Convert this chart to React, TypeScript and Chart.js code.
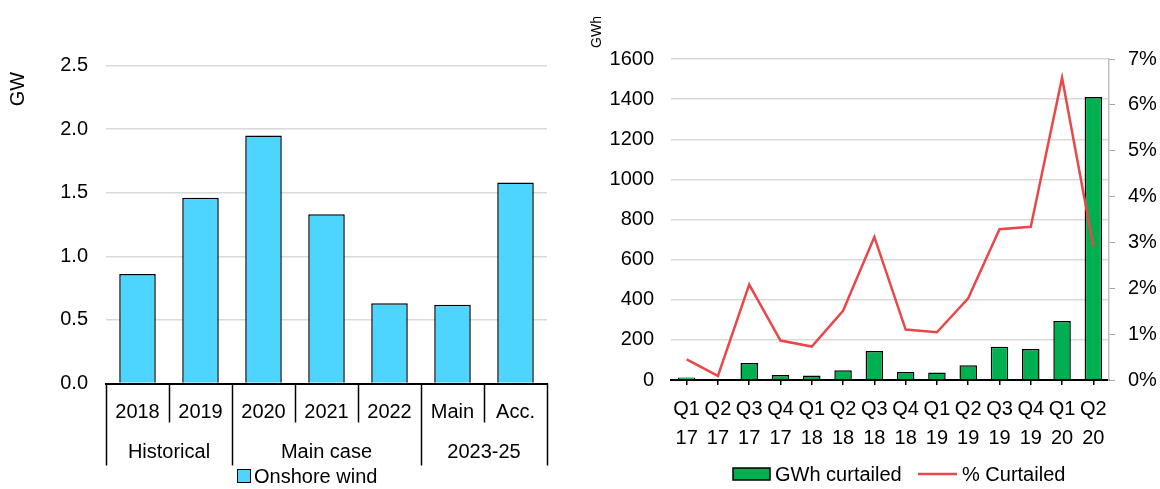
import React, { useEffect, useRef } from "react";
import Chart from "chart.js/auto";

const FONT = '"Liberation Sans", Arial, sans-serif';

// ---------- Left chart data ----------
const leftCategories = ["2018", "2019", "2020", "2021", "2022", "Main", "Acc."];
const leftGroups = ["Historical", "Main case", "2023-25"];
const leftGroupSizes = [2, 3, 2];
const onshoreWind = [0.86, 1.46, 1.95, 1.33, 0.63, 0.62, 1.58];
const leftSeriesLabel = "Onshore wind";
const leftAxisTitle = "GW";

// ---------- Right chart data ----------
const quarterLabels = ["Q1", "Q2", "Q3", "Q4", "Q1", "Q2", "Q3", "Q4", "Q1", "Q2", "Q3", "Q4", "Q1", "Q2"];
const yearLabels = ["17", "17", "17", "17", "18", "18", "18", "18", "19", "19", "19", "19", "20", "20"];
const gwhCurtailed = [13, 3, 85, 25, 22, 48, 145, 40, 37, 73, 166, 155, 294, 1410];
const pctCurtailed = [0.45, 0.09, 2.08, 0.86, 0.73, 1.51, 3.12, 1.1, 1.04, 1.78, 3.29, 3.34, 6.59, 2.91];
const barLabel = "GWh curtailed";
const lineLabel = "% Curtailed";
const rightAxisTitle = "GWh";

const CYAN = "#4DD4FF";
const GREEN = "#00B050";
const RED = "#E8484A";
const GRID = "#D9D9D9";

function LeftChart() {
  const ref = useRef<HTMLCanvasElement>(null);
  useEffect(() => {
    const overlay = {
      id: "leftOverlay",
      afterDraw(chart: any) {
        const ctx = chart.ctx;
        const area = chart.chartArea;
        const n = leftCategories.length;
        const w = (area.right - area.left) / n;
        const base = area.bottom;
        const longIdx = [0];
        let acc = 0;
        leftGroupSizes.forEach((s) => {
          acc += s;
          longIdx.push(acc);
        });
        ctx.save();
        ctx.strokeStyle = "#000";
        ctx.lineWidth = 1.5;
        for (let i = 0; i <= n; i++) {
          const bx = Math.round(area.left + i * w) + 0.5;
          const isLong = longIdx.includes(i);
          ctx.beginPath();
          ctx.moveTo(bx, base);
          ctx.lineTo(bx, isLong ? base + 82 : base + 39);
          ctx.stroke();
        }
        // group labels
        ctx.fillStyle = "#000";
        ctx.font = `20px ${FONT}`;
        ctx.textAlign = "center";
        ctx.textBaseline = "middle";
        let start = 0;
        leftGroups.forEach((g, gi) => {
          const end = start + leftGroupSizes[gi];
          const cx = area.left + ((start + end) / 2) * w;
          ctx.fillText(g, cx, base + 69);
          start = end;
        });
        // axis title
        ctx.save();
        ctx.translate(18, 89);
        ctx.rotate(-Math.PI / 2);
        ctx.fillText(leftAxisTitle, 0, 0);
        ctx.restore();
        // legend
        const ly = 476;
        ctx.fillStyle = CYAN;
        ctx.fillRect(237, ly - 7, 14, 14);
        ctx.strokeStyle = "#000";
        ctx.lineWidth = 1;
        ctx.strokeRect(237.5, ly - 6.5, 13, 13);
        ctx.fillStyle = "#000";
        ctx.textAlign = "left";
        ctx.fillText(leftSeriesLabel, 254, ly + 1);
        ctx.restore();
      },
    };
    const chart = new Chart(ref.current!, {
      type: "bar",
      data: {
        labels: leftCategories,
        datasets: [
          {
            label: leftSeriesLabel,
            data: onshoreWind,
            backgroundColor: CYAN,
            borderColor: "#000",
            borderWidth: 1.5,
            barPercentage: 0.58,
            categoryPercentage: 1,
          },
        ],
      },
      options: {
        animation: false,
        responsive: false,
        devicePixelRatio: 1,
        layout: { padding: { top: 65.5, left: 0, right: 33, bottom: 0 } },
        plugins: { legend: { display: false }, tooltip: { enabled: false } },
        scales: {
          x: {
            grid: { display: false },
            border: { display: true, color: "#000", width: 2 },
            ticks: { color: "#000", font: { family: FONT, size: 20 }, padding: 9, maxRotation: 0 },
            afterFit: (s: any) => {
              s.height = 489 - 383.5;
            },
          },
          y: {
            min: 0,
            max: 2.5,
            grid: { color: GRID, lineWidth: 1.5, drawTicks: false },
            border: { display: false },
            ticks: {
              stepSize: 0.5,
              color: "#000",
              font: { family: FONT, size: 20 },
              padding: 18,
              callback: (v: any) => Number(v).toFixed(1),
            },
            afterFit: (s: any) => {
              s.width = 106;
            },
          },
        },
      },
      plugins: [overlay],
    });
    return () => chart.destroy();
  }, []);
  return <canvas ref={ref} width={580} height={489} style={{ position: "absolute", left: 0, top: 0, width: 580, height: 489 }} />;
}

function RightChart() {
  const ref = useRef<HTMLCanvasElement>(null);
  useEffect(() => {
    const overlay = {
      id: "rightOverlay",
      afterDraw(chart: any) {
        const ctx = chart.ctx;
        ctx.save();
        ctx.fillStyle = "#000";
        // small axis title
        ctx.font = `14px ${FONT}`;
        ctx.textAlign = "center";
        ctx.textBaseline = "middle";
        ctx.save();
        ctx.translate(17, 32);
        ctx.rotate(-Math.PI / 2);
        ctx.fillText(rightAxisTitle, 0, 0);
        ctx.restore();
        // legend
        const ly = 474;
        const ox = -580;
        ctx.fillStyle = GREEN;
        ctx.fillRect(733 + ox, ly - 6, 37, 12);
        ctx.strokeStyle = "#000";
        ctx.lineWidth = 1.5;
        ctx.strokeRect(733 + ox, ly - 6, 37, 12);
        ctx.fillStyle = "#000";
        ctx.font = `20px ${FONT}`;
        ctx.textAlign = "left";
        ctx.fillText(barLabel, 775 + ox, ly + 1);
        ctx.strokeStyle = RED;
        ctx.lineWidth = 2.5;
        ctx.beginPath();
        ctx.moveTo(918 + ox, ly);
        ctx.lineTo(957 + ox, ly);
        ctx.stroke();
        ctx.fillText(lineLabel, 962 + ox, ly + 1);
        ctx.restore();
      },
    };
    const chart = new Chart(ref.current!, {
      type: "bar",
      data: {
        labels: quarterLabels.map((q, i) => [q, yearLabels[i]]),
        datasets: [
          {
            type: "line",
            label: lineLabel,
            data: pctCurtailed,
            yAxisID: "y1",
            borderColor: RED,
            borderWidth: 2.5,
            pointRadius: 0,
            tension: 0,
            order: 0,
          } as any,
          {
            type: "bar",
            label: barLabel,
            data: gwhCurtailed,
            yAxisID: "y",
            backgroundColor: GREEN,
            borderColor: "#000",
            borderWidth: 1.5,
            barPercentage: 0.56,
            categoryPercentage: 1,
            order: 1,
          },
        ],
      },
      options: {
        animation: false,
        responsive: false,
        devicePixelRatio: 1,
        layout: { padding: { top: 59, left: 0, right: 0, bottom: 0 } },
        plugins: { legend: { display: false }, tooltip: { enabled: false } },
        scales: {
          x: {
            grid: { display: true, drawOnChartArea: false, offset: false, color: "#000", lineWidth: 1.5, tickLength: 5 },
            border: { display: true, color: "#000", width: 2 },
            ticks: {
              color: "#000",
              font: { family: FONT, size: 20, lineHeight: 1.45 },
              padding: 10,
              maxRotation: 0,
              autoSkip: false,
            },
            afterFit: (s: any) => {
              s.height = 489 - 380;
            },
          },
          y: {
            position: "left",
            min: 0,
            max: 1600,
            grid: { color: GRID, lineWidth: 1.5, drawTicks: false },
            border: { display: false },
            ticks: {
              stepSize: 200,
              color: "#000",
              font: { family: FONT, size: 20 },
              padding: 17,
              callback: (v: any) => String(v),
            },
            afterFit: (s: any) => {
              s.width = 91;
            },
          },
          y1: {
            position: "right",
            min: 0,
            max: 7,
            grid: { drawOnChartArea: false, color: "#A6A6A6", lineWidth: 1, tickLength: 6 },
            border: { display: true, color: "#BFBFBF", width: 1.5 },
            ticks: {
              stepSize: 1,
              color: "#000",
              font: { family: FONT, size: 20 },
              padding: 13,
              callback: (v: any) => `${v}%`,
            },
            afterFit: (s: any) => {
              s.width = 51;
            },
          },
        },
      },
      plugins: [overlay],
    });
    return () => chart.destroy();
  }, []);
  return <canvas ref={ref} width={580} height={489} style={{ position: "absolute", left: 580, top: 0, width: 580, height: 489 }} />;
}

export default function App() {
  return (
    <div style={{ position: "absolute", left: 0, top: 0, width: 1160, height: 489, background: "#fff", overflow: "hidden" }}>
      <LeftChart />
      <RightChart />
    </div>
  );
}
